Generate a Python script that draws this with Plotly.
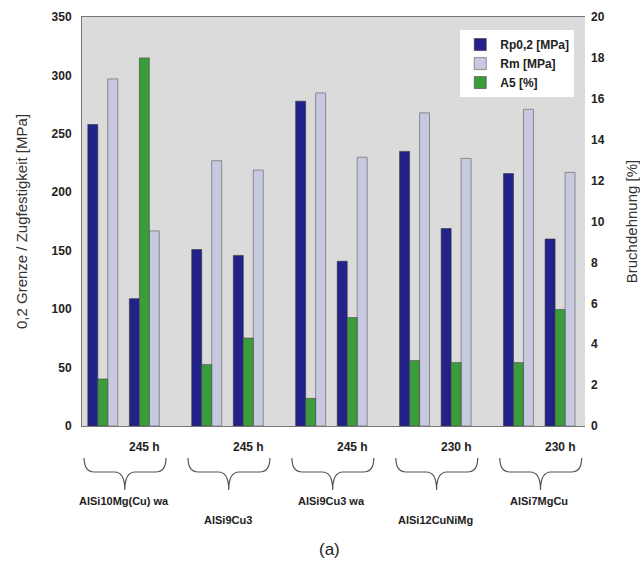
import plotly.graph_objects as go

# ---------------- data ----------------
alloys = ["AlSi10Mg(Cu) wa", "AlSi9Cu3", "AlSi9Cu3 wa", "AlSi12CuNiMg", "AlSi7MgCu"]
aging = ["245 h", "245 h", "245 h", "230 h", "230 h"]
rp02 = [258, 109, 151, 146, 278, 141, 235, 169, 216, 160]   # MPa
rm = [297, 167, 227, 219, 285, 230, 268, 229, 271, 217]     # MPa
a5 = [2.3, 18.0, 3.0, 4.3, 1.35, 5.3, 3.2, 3.1, 3.1, 5.7]   # %
left_ticks = [0, 50, 100, 150, 200, 250, 300, 350]
right_ticks = [0, 2, 4, 6, 8, 10, 12, 14, 16, 18, 20]

# x position of each state (pairs of states per alloy, with a gap between alloys)
xpos = [i + 0.5 * (i // 2) for i in range(len(rp02))]

FONT = "Liberation Sans, Arial, sans-serif"
C_RP = "#22228a"
C_RM = "#c6c9e0"
C_A5 = "#3b9c3b"

fig = go.Figure()
fig.add_trace(go.Bar(x=xpos, y=rp02, name="Rp0,2 [MPa]", marker=dict(color=C_RP, line=dict(color="#333", width=0.6)),
                     offsetgroup="1", alignmentgroup="g", legendrank=1))
fig.add_trace(go.Bar(x=xpos, y=a5, name="A5 [%]", yaxis="y2", marker=dict(color=C_A5, line=dict(color="#444", width=0.6)),
                     offsetgroup="2", alignmentgroup="g", legendrank=3))
fig.add_trace(go.Bar(x=xpos, y=rm, name="Rm [MPa]", marker=dict(color=C_RM, line=dict(color="#777", width=0.8)),
                     offsetgroup="3", alignmentgroup="g", legendrank=2))

# geometry helpers (pixel -> paper)
PT, PB = 17, 426
def py(ypx):
    return (PB - ypx) / (PB - PT)

shapes = []
annotations = []
for k, name in enumerate(alloys):
    p = xpos[2 * k]
    L, R = p - 0.45, p + 1.52
    c = p + 0.53
    yt, ym, yb = py(458), py(472), py(490)
    d = 0.25
    path = (f"M {L},{yt} Q {L},{ym} {L+d},{ym} L {c-d},{ym} Q {c},{ym} {c},{yb} "
            f"Q {c},{ym} {c+d},{ym} L {R-d},{ym} Q {R},{ym} {R},{yt}")
    shapes.append(dict(type="path", path=path, xref="x", yref="paper",
                       line=dict(color="#555", width=1.2)))
    annotations.append(dict(x=xpos[2 * k + 1], y=py(447), xref="x", yref="paper", text=aging[k],
                            xanchor="center", yanchor="middle", showarrow=False,
                            font=dict(family=FONT, size=12, color="#222", weight="bold")))
    ylab = py(501) if k % 2 == 0 else py(520)
    annotations.append(dict(x=p + 0.5, y=ylab, xref="x", yref="paper", text=name,
                            xanchor="center", yanchor="middle", showarrow=False,
                            font=dict(family=FONT, size=11, color="#222", weight="bold")))

annotations.append(dict(x=0.493, y=py(549), xref="paper", yref="paper", text="(a)", showarrow=False,
                        xanchor="center", yanchor="middle",
                        font=dict(family=FONT, size=17, color="#222")))

fig.update_layout(
    width=640, height=571,
    margin=dict(l=82, r=55, t=17, b=145),
    paper_bgcolor="white",
    plot_bgcolor="#dbdbdb",
    barmode="group",
    bargap=0.28,
    bargroupgap=0,
    font=dict(family=FONT, color="#222"),
    showlegend=True,
    legend=dict(x=0.752, y=0.968, xanchor="left", yanchor="top", bgcolor="white",
                font=dict(family=FONT, size=12, color="#222", weight="bold"),
                itemwidth=30, tracegroupgap=0),
    xaxis=dict(range=[-0.5, 11.6], showticklabels=False, showgrid=False, zeroline=False, automargin=False,
               showline=True, linecolor="#777", linewidth=1, mirror=True, ticks=""),
    yaxis=dict(range=[0, 350], tickvals=left_ticks, showgrid=False, zeroline=False, automargin=False,
               showline=True, linecolor="#777", linewidth=1, ticks="", ticklabelstandoff=7,
               tickfont=dict(family=FONT, size=12, color="#222", weight="bold"),
               title=dict(text="0,2 Grenze / Zugfestigkeit [MPa]", font=dict(family=FONT, size=15, color="#333"),
                          standoff=20)),
    yaxis2=dict(range=[0, 20], tickvals=right_ticks, overlaying="y", side="right", showgrid=False,
                zeroline=False, showline=False, ticks="", automargin=False, ticklabelstandoff=5,
                tickfont=dict(family=FONT, size=12, color="#222", weight="bold"),
                title=dict(text="Bruchdehnung [%]", font=dict(family=FONT, size=15, color="#333"),
                           standoff=22)),
    shapes=shapes,
    annotations=annotations,
)

fig.write_html("out.html", config={"displayModeBar": False},
               post_script="document.body.style.margin='0';document.body.style.overflow='hidden';")
